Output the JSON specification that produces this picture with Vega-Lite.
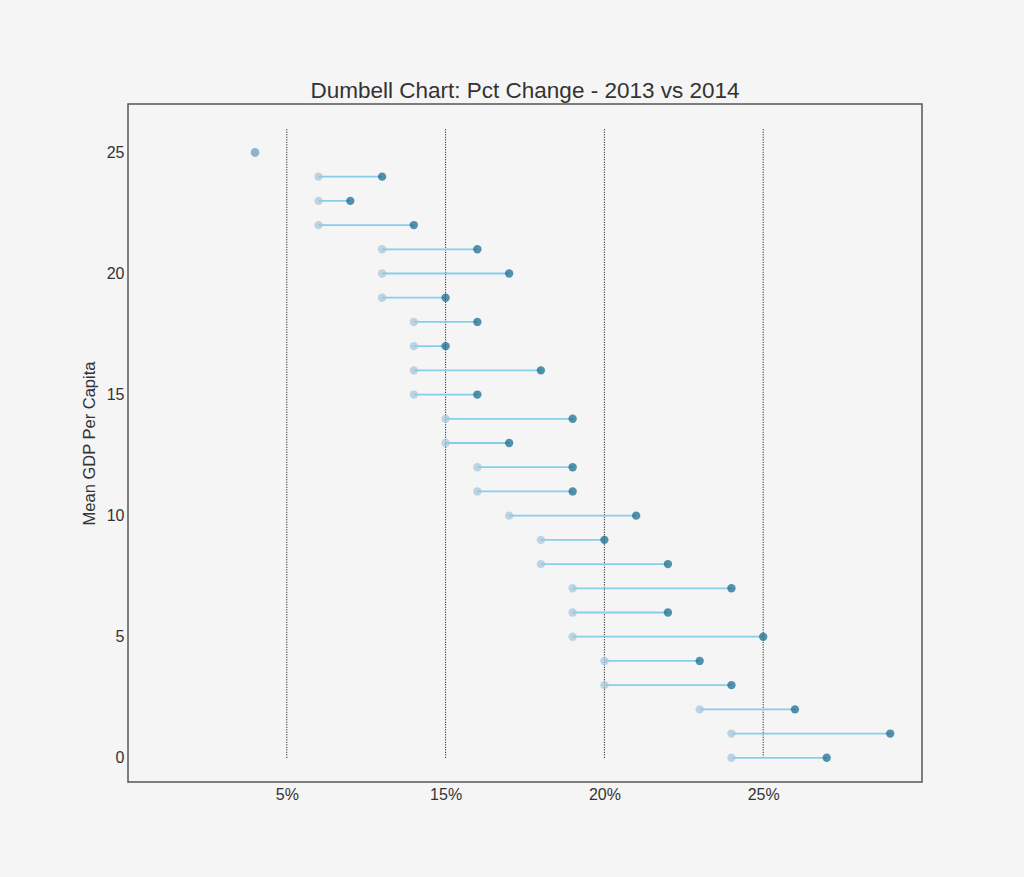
{
  "$schema": "https://vega.github.io/schema/vega-lite/v6.json",
  "width": 794,
  "height": 678,
  "autosize": "none",
  "padding": {"left": 128, "top": 104, "right": 102, "bottom": 95},
  "background": "#f5f5f5",
  "config": {
    "font": "Liberation Sans",
    "view": {"stroke": "#555555", "strokeWidth": 1.5, "fill": "#f5f5f5"},
    "axis": {"grid": false, "domain": false, "ticks": false, "labelFontSize": 16, "labelColor": "#333333", "titleFontSize": 16.5, "titleFontWeight": "normal", "titleColor": "#333333"}
  },
  "title": {"text": "Dumbell Chart: Pct Change - 2013 vs 2014", "fontSize": 22.5, "fontWeight": "normal", "color": "#333333", "offset": 2},
  "datasets": {
    "rows": [
      {"y": 0, "a": 0.19, "b": 0.22},
      {"y": 1, "a": 0.19, "b": 0.24},
      {"y": 2, "a": 0.18, "b": 0.21},
      {"y": 3, "a": 0.15, "b": 0.19},
      {"y": 4, "a": 0.15, "b": 0.18},
      {"y": 5, "a": 0.14, "b": 0.20},
      {"y": 6, "a": 0.14, "b": 0.17},
      {"y": 7, "a": 0.14, "b": 0.19},
      {"y": 8, "a": 0.13, "b": 0.17},
      {"y": 9, "a": 0.13, "b": 0.15},
      {"y": 10, "a": 0.12, "b": 0.16},
      {"y": 11, "a": 0.11, "b": 0.14},
      {"y": 12, "a": 0.11, "b": 0.14},
      {"y": 13, "a": 0.10, "b": 0.12},
      {"y": 14, "a": 0.10, "b": 0.14},
      {"y": 15, "a": 0.09, "b": 0.11},
      {"y": 16, "a": 0.09, "b": 0.13},
      {"y": 17, "a": 0.09, "b": 0.10},
      {"y": 18, "a": 0.09, "b": 0.11},
      {"y": 19, "a": 0.08, "b": 0.10},
      {"y": 20, "a": 0.08, "b": 0.12},
      {"y": 21, "a": 0.08, "b": 0.11},
      {"y": 22, "a": 0.06, "b": 0.09},
      {"y": 23, "a": 0.06, "b": 0.07},
      {"y": 24, "a": 0.06, "b": 0.08},
      {"y": 25, "a": 0.04, "b": 0.04}
    ],
    "vlines": [
      {"x": 0.05, "y0": 0, "y1": 26},
      {"x": 0.10, "y0": 0, "y1": 26},
      {"x": 0.15, "y0": 0, "y1": 26},
      {"x": 0.20, "y0": 0, "y1": 26}
    ]
  },
  "layer": [
    {
      "data": {"name": "vlines"},
      "mark": {"type": "rule", "color": "black", "strokeWidth": 1, "strokeDash": [1, 1.5]},
      "encoding": {
        "x": {"field": "x", "type": "quantitative", "scale": {"domain": [0, 0.25], "nice": false, "zero": false},
          "axis": {"values": [0.05, 0.1, 0.15, 0.2], "labelExpr": "round(datum.value*100)==5?'5%':round(datum.value*100)==10?'15%':round(datum.value*100)==15?'20%':'25%'", "title": null, "labelPadding": 4}},
        "y": {"field": "y0", "type": "quantitative", "scale": {"domain": [-1, 27], "nice": false, "zero": false},
          "axis": {"values": [0, 5, 10, 15, 20, 25], "title": "Mean GDP Per Capita", "labelPadding": 4, "titlePadding": 9}},
        "y2": {"field": "y1"}
      }
    },
    {
      "data": {"name": "rows"},
      "mark": {"type": "rule", "color": "#87ceeb", "strokeWidth": 1.8},
      "encoding": {
        "x": {"field": "a", "type": "quantitative"},
        "x2": {"field": "b"},
        "y": {"field": "y", "type": "quantitative"}
      }
    },
    {
      "data": {"name": "rows"},
      "mark": {"type": "circle", "color": "#0e668b", "opacity": 0.7, "size": 70},
      "encoding": {
        "x": {"field": "b", "type": "quantitative"},
        "y": {"field": "y", "type": "quantitative"}
      }
    },
    {
      "data": {"name": "rows"},
      "mark": {"type": "circle", "color": "#a3c4dc", "opacity": 0.7, "size": 70},
      "encoding": {
        "x": {"field": "a", "type": "quantitative"},
        "y": {"field": "y", "type": "quantitative"}
      }
    }
  ]
}
